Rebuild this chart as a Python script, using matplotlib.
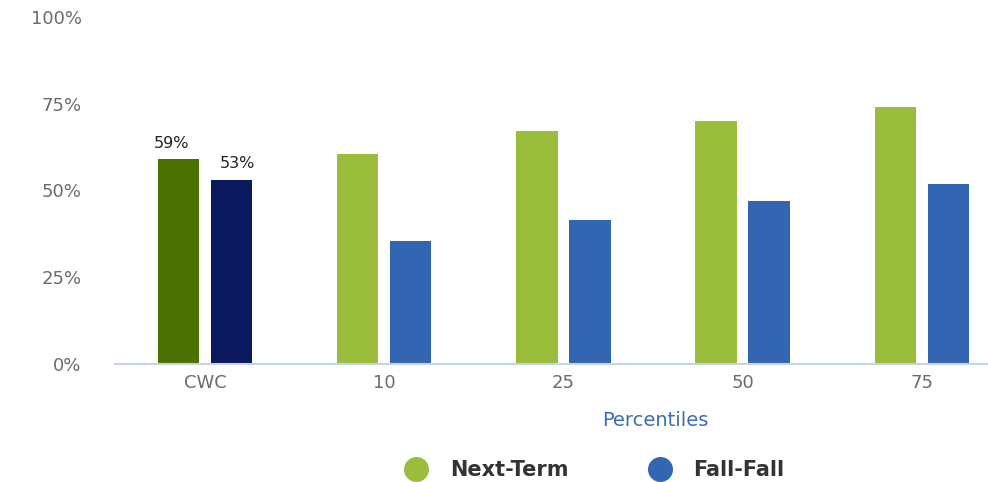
import matplotlib
matplotlib.use("Agg")
import matplotlib.pyplot as plt
from matplotlib.lines import Line2D
import numpy as np

categories = ["CWC", "10", "25", "50", "75"]
next_term = [59, 60.5, 67, 70, 74]
fall_fall = [53, 35.5, 41.5, 47, 52]
yticks = [0, 25, 50, 75, 100]
ytick_labels = ["0%", "25%", "50%", "75%", "100%"]

green_light = "#9bbd3c"
blue_light = "#3366b2"
green_dark = "#4b7100"
blue_dark = "#0b1a5e"

fig = plt.figure(figsize=(9.88, 4.82), dpi=100)
ax = fig.add_axes([0.1164, 0.2448, 0.8836, 0.72])

x = np.arange(len(categories))
w = 0.23
off = 0.148
gcols = [green_dark] + [green_light] * (len(categories) - 1)
bcols = [blue_dark] + [blue_light] * (len(categories) - 1)
ax.bar(x - off, next_term, w, color=gcols)
ax.bar(x + off, fall_fall, w, color=bcols)

ax.text(x[0] - off - 0.04, next_term[0] + 2.5, f"{next_term[0]:.0f}%", ha="center", va="bottom", fontsize=11.5, color="#222222")
ax.text(x[0] + off + 0.03, fall_fall[0] + 2.5, f"{fall_fall[0]:.0f}%", ha="center", va="bottom", fontsize=11.5, color="#222222")

ax.set_xlim(-0.503, 4.37)
ax.set_ylim(0, 100)
ax.set_yticks(yticks)
ax.set_yticklabels(ytick_labels)
ax.set_xticks(x)
ax.set_xticklabels(categories)
ax.tick_params(axis="both", length=0, labelsize=13, colors="#6b6b6b")
ax.tick_params(axis="y", pad=24)
ax.tick_params(axis="x", pad=7)
for s in ["top", "right", "left"]:
    ax.spines[s].set_visible(False)
ax.spines["bottom"].set_color("#c5d3e4")
ax.spines["bottom"].set_linewidth(1.5)

fig.text(655 / 988, 1 - 420 / 482, "Percentiles", ha="center", va="center", fontsize=14, color="#3d6cb5")

handles = [
    Line2D([], [], marker="o", linestyle="", markersize=17, color=green_light),
    Line2D([], [], marker="o", linestyle="", markersize=17, color=blue_light),
]
leg = fig.legend(handles, ["Next-Term", "Fall-Fall"], loc="center", bbox_to_anchor=(590 / 988, 1 - 470 / 482),
                 ncol=2, frameon=False, fontsize=15, columnspacing=3.4, handletextpad=0.6)
for t in leg.get_texts():
    t.set_color("#333333")
    t.set_fontweight("bold")

fig.savefig("out.png", dpi=100)
